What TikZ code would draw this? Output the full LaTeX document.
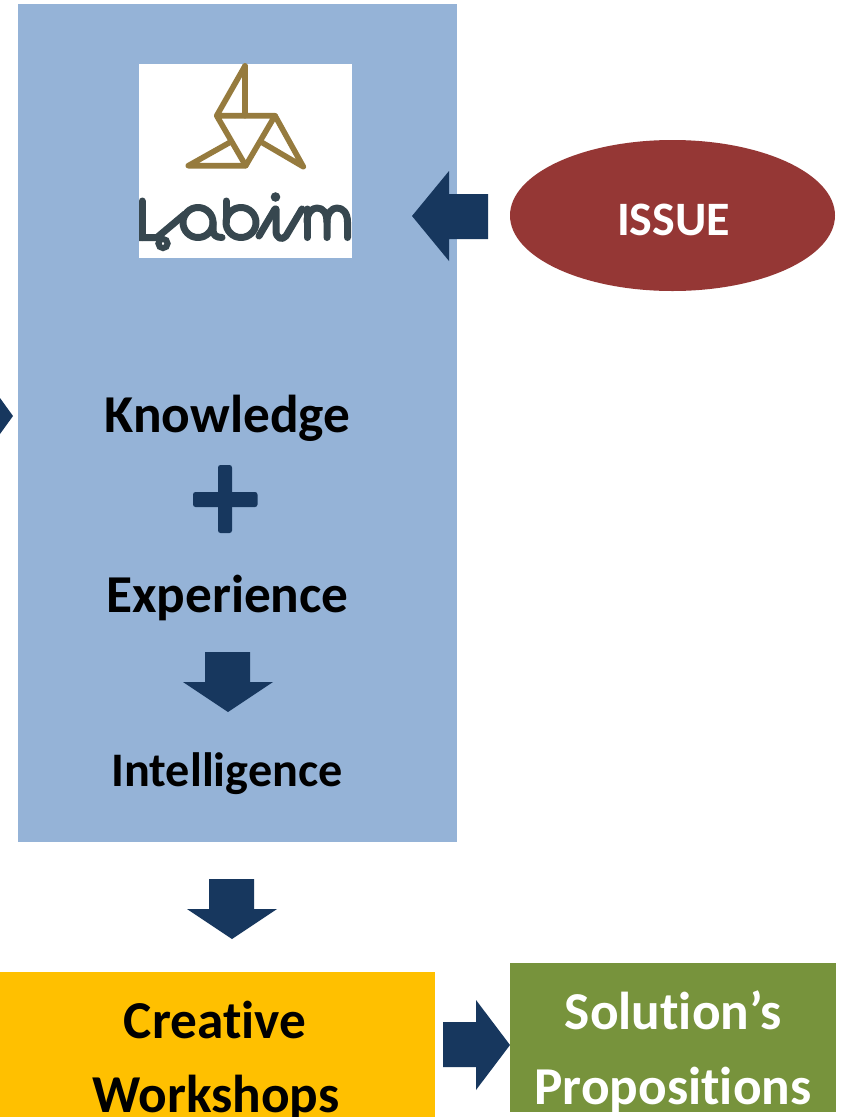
\documentclass[tikz,border=0pt]{standalone}
\usepackage{fontspec}
\setmainfont{Carlito}[Ligatures=NoCommon]
\usetikzlibrary{shapes.geometric}
\definecolor{panel}{HTML}{95B3D7}
\definecolor{navy}{HTML}{17375E}
\definecolor{issue}{HTML}{953735}
\definecolor{amber}{HTML}{FFC000}
\definecolor{leaf}{HTML}{77933C}
\definecolor{gold}{HTML}{967B3E}
\definecolor{slate}{HTML}{37474F}
\tikzset{
  x=1pt,y=-1pt,
  box/.style={draw=none,inner sep=0pt,outer sep=0pt,anchor=north west},
  lab/.style={inner sep=0pt,outer sep=0pt,anchor=base},
  big/.style={lab,font=\bfseries\fontsize{53.3}{53.3}\selectfont},
  arrowfill/.style={fill=navy,draw=none},
  goldline/.style={draw=gold,line width=5.6pt,line join=round,line cap=round},
  slateline/.style={draw=slate,line width=7pt,line cap=round,line join=round},
}
\begin{document}
\begin{tikzpicture}
\useasboundingbox (0,0) rectangle (846,1117);
\fill[white] (0,0) rectangle (846,1117);
% panels
\node[box,fill=panel,minimum width=439pt,minimum height=838pt] (panel) at (18,4) {};
\node[box,fill=white,minimum width=213pt,minimum height=194pt] (logo) at (139,64) {};
\node[ellipse,fill=issue,minimum width=325pt,minimum height=151pt,inner sep=0pt] (issue) at (672.5,215.5) {};
\node[lab,text=white,font=\bfseries\fontsize{48}{48}\selectfont] at (673.5,235) {ISSUE};
% logo mark
\draw[goldline] (245,66) -- (216.7,115.7) -- (275,115.7) -- (245.7,165.7) -- (216.7,115.7);
\draw[goldline] (245,66) -- (245,115.7);
\draw[goldline] (230,142.3) -- (188.3,165.7) -- (245.7,165.7);
\draw[goldline] (275,115.7) -- (303.3,166.7) -- (261.7,142.3);
% logo lettering
\begin{scope}
\clip (139,64) rectangle (352,258);
% L
\draw[slateline] (142,201) -- (142,237.5);
\draw[slateline] (136,237.5) -- (157,237.5) -- (185,214);
\draw[draw=slate,line width=6pt] (163,243.5) circle[radius=4.6];
% a
\draw[slateline] (198,222.5) circle[radius=15];
\draw[slateline] (213,222) -- (213,230) .. controls (213,235) and (216,237.5) .. (222,237.5);
% b
\draw[slateline] (226,201) -- (226,222);
\draw[slateline] (241,222.5) circle[radius=15];
% i
\draw[slateline] (259,236) -- (275,209);
\draw[slateline] (276,209) -- (276,231) .. controls (276,238) and (282,241) .. (286,236) -- (302,209);
\fill[slate] (275.5,197) circle[radius=4.8];
% m
\draw[slateline] (307,209) -- (307,237.5);
\draw[slateline] (307,222) .. controls (307,213) and (312,208) .. (317,208) .. controls (323,208) and (327,213) .. (327,222) -- (327,237.5);
\draw[slateline] (327,222) .. controls (327,213) and (332,208) .. (337,208) .. controls (343,208) and (347.5,213) .. (347.5,222) -- (347.5,237.5);
\end{scope}
% text
\node[big] at (227.5,432.5) {Knowledge};
\node[big] at (227.5,612.5) {Experience};
\node[lab,font=\bfseries\fontsize{48.2}{48.2}\selectfont] at (227,786) {Intelligence};
% plus
\fill[navy,rounded corners=2.5pt] (218,465) rectangle (232,533);
\fill[navy,rounded corners=2.5pt] (193,492) rectangle (257.5,507);
% arrows
\fill[arrowfill] (488,194) -- (449,194) -- (449,171) -- (412,216) -- (449,261) -- (449,239) -- (488,239) -- cycle;
\fill[arrowfill] (0,398) -- (13,416) -- (0,434) -- cycle;
\fill[arrowfill] (205,652) -- (250,652) -- (250,682) -- (273,682) -- (228,712) -- (183,682) -- (205,682) -- cycle;
\fill[arrowfill] (209,879) -- (254,879) -- (254,909) -- (277,909) -- (232,939) -- (187,909) -- (209,909) -- cycle;
\fill[arrowfill] (443,1022) -- (476,1022) -- (476,1000) -- (510,1045) -- (476,1090) -- (476,1067) -- (443,1067) -- cycle;
% bottom boxes
\node[box,fill=amber,minimum width=435pt,minimum height=145pt] (creative) at (0,972) {};
\node[box,fill=leaf,minimum width=326pt,minimum height=149pt] (solution) at (510,963) {};
\node[big] at (215,1038) {Creative};
\node[big] at (216,1112) {Workshops};
\node[big,text=white] at (673,1029) {Solution’s};
\node[big,text=white] at (673,1104) {Propositions};
\end{tikzpicture}
\end{document}
